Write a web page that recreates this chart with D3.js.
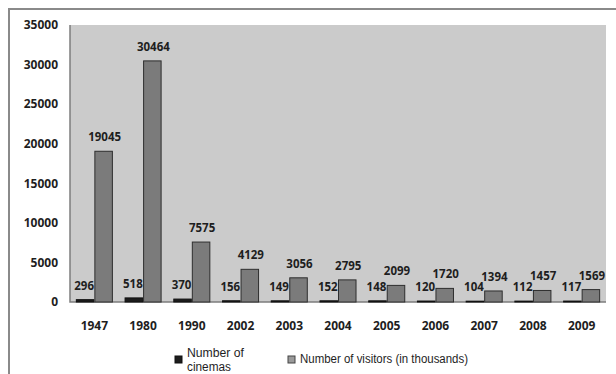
<!DOCTYPE html>
<html>
<head>
<meta charset="utf-8">
<script src="https://cdn.jsdelivr.net/npm/d3@7/dist/d3.min.js"></script>
<style>
  html, body { margin: 0; padding: 0; background: #fff; }
  svg { display: block; }
  text { font-family: "Open Sans", "DejaVu Sans", sans-serif; fill: #1e1e1e; }
  .legend text { font-family: "Liberation Sans", Arial, sans-serif; }
</style>
</head>
<body>
<svg id="chart" width="616" height="374"></svg>
<script>
// Cinemas and cinema visitors by year
const years = ["1947", "1980", "1990", "2002", "2003", "2004", "2005", "2006", "2007", "2008", "2009"];
const cinemas = [296, 518, 370, 156, 149, 152, 148, 120, 104, 112, 117];
const visitors = [19045, 30464, 7575, 4129, 3056, 2795, 2099, 1720, 1394, 1457, 1569];
const yTicks = [0, 5000, 10000, 15000, 20000, 25000, 30000, 35000];
const seriesKeys = ["cinemas", "visitors"];
const seriesNames = ["Number of cinemas", "Number of visitors (in thousands)"];

const svg = d3.select("#chart");

const plot = { left: 70, right: 606, top: 25, bottom: 302 };

const x0 = d3.scaleBand().domain(years)
  .range([plot.left, plot.right])
  .paddingInner(0.24).paddingOuter(0.12);
const x1 = d3.scaleBand().domain(seriesKeys).range([0, x0.bandwidth()]);
const y = d3.scaleLinear().domain([0, 35000]).range([plot.bottom, plot.top]);

const fills = { cinemas: "#1c1c1c", visitors: "#7b7b7b" };
const strokes = { cinemas: "#111", visitors: "#2e2e2e" };

// outer frame (open on the right and bottom)
svg.append("path")
  .attr("d", "M9,380 L9,9 L620,9")
  .attr("fill", "none").attr("stroke", "#8a8a8a").attr("stroke-width", 2);

// plot background
svg.append("rect")
  .attr("x", plot.left).attr("y", plot.top)
  .attr("width", plot.right - plot.left).attr("height", plot.bottom - plot.top)
  .attr("fill", "#cbcbcb");
svg.append("path")
  .attr("d", `M${plot.left},${plot.top} L${plot.left},${plot.bottom} L${plot.right},${plot.bottom}`)
  .attr("fill", "none").attr("stroke", "#7d7d7d").attr("stroke-width", 1.5);

const rows = years.map((yr, i) => ({ year: yr, cinemas: cinemas[i], visitors: visitors[i] }));

const groups = svg.append("g").selectAll("g")
  .data(rows).join("g")
  .attr("transform", d => `translate(${x0(d.year)},0)`);

groups.selectAll("rect")
  .data(d => seriesKeys.map(k => ({ key: k, value: d[k] })))
  .join("rect")
  .attr("x", d => x1(d.key) + 0.5)
  .attr("width", x1.bandwidth() - 1)
  .attr("y", d => y(d.value))
  .attr("height", d => y(0) - y(d.value))
  .attr("fill", d => fills[d.key])
  .attr("stroke", d => strokes[d.key])
  .attr("stroke-width", 1);

groups.selectAll("text.val")
  .data(d => seriesKeys.map(k => ({ key: k, value: d[k] })))
  .join("text")
  .attr("class", "val")
  .attr("x", d => x1(d.key) + x1.bandwidth() / 2 + (d.key === "visitors" ? 1 : -1))
  .attr("y", d => y(d.value) - 10)
  .attr("text-anchor", "middle")
  .style("font-size", "11.5px")
  .style("font-weight", "bold")
  .text(d => d.value);

// axes
const yAxis = svg.append("g")
  .attr("transform", `translate(${plot.left},0)`)
  .call(d3.axisLeft(y).tickValues(yTicks).tickSize(0).tickPadding(12).tickFormat(d3.format("d")));
yAxis.select(".domain").remove();
yAxis.selectAll("text")
  .style("font-family", "'Open Sans', sans-serif")
  .style("font-size", "12px").style("font-weight", "bold").attr("fill", "#1e1e1e");

const xAxis = svg.append("g")
  .attr("transform", `translate(0,${plot.bottom})`)
  .call(d3.axisBottom(x0).tickSize(0).tickPadding(19));
xAxis.select(".domain").remove();
xAxis.selectAll("text")
  .style("font-family", "'Open Sans', sans-serif")
  .style("font-size", "12px").style("font-weight", "bold").attr("fill", "#1e1e1e");

// legend
const legend = svg.append("g").attr("class", "legend");
legend.append("rect")
  .attr("x", 175).attr("y", 356).attr("width", 7).attr("height", 7)
  .attr("fill", fills.cinemas).attr("stroke", strokes.cinemas);
legend.append("text")
  .attr("x", 187).attr("y", 357)
  .style("font-size", "12px")
  .attr("textLength", 57).attr("lengthAdjust", "spacingAndGlyphs")
  .text("Number of");
legend.append("text")
  .attr("x", 187).attr("y", 371)
  .style("font-size", "12px")
  .attr("textLength", 44).attr("lengthAdjust", "spacingAndGlyphs")
  .text("cinemas");

legend.append("rect")
  .attr("x", 288).attr("y", 356).attr("width", 7).attr("height", 7)
  .attr("fill", "#9a9a9a").attr("stroke", "#444");
legend.append("text")
  .attr("x", 300).attr("y", 363)
  .style("font-size", "12px")
  .attr("textLength", 168).attr("lengthAdjust", "spacingAndGlyphs")
  .text(seriesNames[1]);
</script>
</body>
</html>
